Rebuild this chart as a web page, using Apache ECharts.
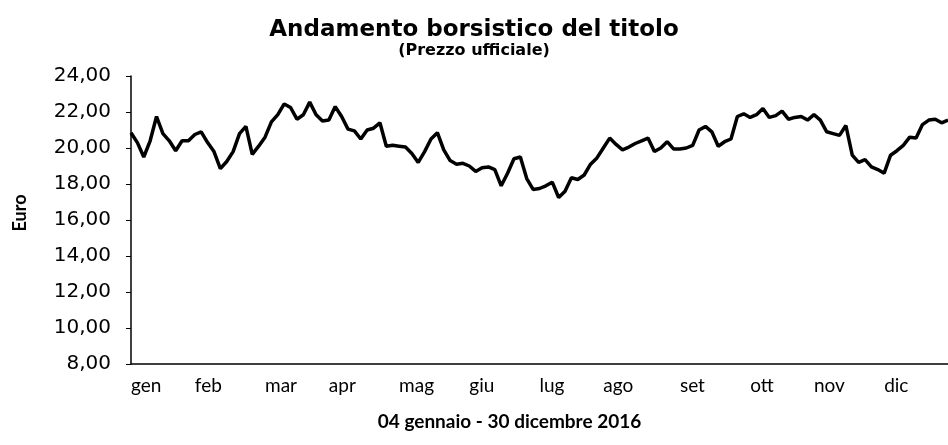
<!DOCTYPE html>
<html>
<head>
<meta charset="utf-8">
<script src="https://cdn.jsdelivr.net/npm/echarts@6/dist/echarts.min.js"></script>
<style>
  html, body { margin: 0; padding: 0; background: #ffffff; }
  #chart { width: 948px; height: 445px; }
</style>
</head>
<body>
<div id="chart"></div>
<script>
// Trading days sampled every second session (dd/mm, 2016)
const dates = [
  '04/01','06/01','08/01','12/01','14/01','18/01','20/01','22/01','26/01','28/01',
  '01/02','03/02','05/02','09/02','11/02','15/02','17/02','19/02','23/02','25/02','29/02',
  '02/03','04/03','08/03','10/03','14/03','16/03','18/03','22/03','24/03','30/03',
  '01/04','05/04','07/04','11/04','13/04','15/04','19/04','21/04','25/04','27/04','29/04',
  '03/05','05/05','09/05','11/05','13/05','17/05','19/05','23/05','25/05','27/05','31/05',
  '02/06','06/06','08/06','10/06','14/06','16/06','20/06','22/06','24/06','28/06','30/06',
  '04/07','06/07','08/07','12/07','14/07','18/07','20/07','22/07','26/07','28/07',
  '01/08','03/08','05/08','09/08','11/08','15/08','17/08','19/08','23/08','25/08','29/08','31/08',
  '02/09','06/09','08/09','12/09','14/09','16/09','20/09','22/09','26/09','28/09','30/09',
  '04/10','06/10','10/10','12/10','14/10','18/10','20/10','24/10','26/10','28/10',
  '01/11','03/11','07/11','09/11','11/11','15/11','17/11','21/11','23/11','25/11','29/11',
  '01/12','05/12','07/12','09/12','13/12','15/12','19/12','21/12','23/12','28/12','30/12'
];

// Official price (Euro)
const prices = [
  20.85, 20.30, 19.50, 20.40, 21.75, 20.80, 20.40, 19.85, 20.40, 20.40,
  20.75, 20.90, 20.30, 19.80, 18.85, 19.25, 19.80, 20.80, 21.20, 19.65, 20.10,
  20.60, 21.45, 21.85, 22.45, 22.25, 21.60, 21.85, 22.55, 21.85, 21.50,
  21.55, 22.30, 21.75, 21.05, 20.95, 20.50, 21.00, 21.10, 21.40, 20.10, 20.15,
  20.10, 20.05, 19.70, 19.20, 19.80, 20.50, 20.85, 19.90, 19.30, 19.10, 19.15,
  19.00, 18.70, 18.90, 18.95, 18.80, 17.90, 18.60, 19.40, 19.50, 18.30, 17.70,
  17.75, 17.90, 18.10, 17.25, 17.60, 18.35, 18.25, 18.50, 19.10, 19.45,
  20.00, 20.55, 20.20, 19.90, 20.05, 20.25, 20.40, 20.55, 19.80, 20.00, 20.35, 19.95,
  19.95, 20.00, 20.15, 21.00, 21.20, 20.90, 20.10, 20.35, 20.50, 21.75, 21.90,
  21.70, 21.85, 22.20, 21.70, 21.80, 22.05, 21.60, 21.70, 21.75, 21.55,
  21.85, 21.55, 20.90, 20.80, 20.70, 21.25, 19.60, 19.20, 19.35, 18.95, 18.80,
  18.60, 19.60, 19.85, 20.15, 20.60, 20.55, 21.30, 21.55, 21.60, 21.40, 21.55
];

// Month names shown on the category axis
const monthLabels = ['gen','feb','mar','apr','mag','giu','lug','ago','set','ott','nov','dic'];

// Value axis range
const yMin = 8;
const yMax = 24;
const yStep = 2;

const monthOf = d => parseInt(d.slice(3, 5), 10) - 1;
const isMonthStart = i => i === 0 || monthOf(dates[i]) !== monthOf(dates[i - 1]);

const chart = echarts.init(document.getElementById('chart'), null, { renderer: 'canvas' });

chart.setOption({
  backgroundColor: '#ffffff',
  animation: false,
  title: {
    text: 'Andamento borsistico del titolo',
    subtext: '(Prezzo ufficiale)',
    left: 'center',
    top: 14,
    padding: [5, 0, 5, 18],
    itemGap: 1,
    textStyle: {
      fontFamily: 'DejaVu Sans',
      fontWeight: 'bold',
      fontSize: 23,
      color: '#000000'
    },
    subtextStyle: {
      fontFamily: 'DejaVu Sans',
      fontWeight: 'bold',
      fontSize: 16,
      color: '#000000'
    }
  },
  grid: {
    left: 131,
    right: 0,
    top: 76,
    bottom: 81,
    outerBoundsMode: 'none'
  },
  xAxis: {
    type: 'category',
    data: dates,
    boundaryGap: false,
    name: '04 gennaio - 30 dicembre 2016',
    nameLocation: 'middle',
    nameGap: 48,
    nameTextStyle: {
      fontFamily: 'Lato',
      fontWeight: 'bold',
      fontSize: 19,
      color: '#000000',
      padding: [0, 60, 0, 0]
    },
    axisLine: { show: true, lineStyle: { color: '#000000', width: 1.5 } },
    axisTick: { show: false },
    splitLine: { show: false },
    axisLabel: {
      interval: (index) => isMonthStart(index),
      formatter: (value) => monthLabels[monthOf(value)],
      align: 'left',
      margin: 12,
      fontFamily: 'Lato',
      fontSize: 19,
      color: '#000000'
    }
  },
  yAxis: {
    type: 'value',
    min: yMin,
    max: yMax,
    interval: yStep,
    name: 'Euro',
    nameLocation: 'middle',
    nameGap: 102,
    nameRotate: 90,
    nameTextStyle: {
      fontFamily: 'Lato',
      fontWeight: 'bold',
      fontSize: 18,
      color: '#000000',
      padding: [0, 0, 0, 14]
    },
    axisLine: { show: true, lineStyle: { color: '#000000', width: 1.5 } },
    axisTick: { show: true, inside: false, length: 5, lineStyle: { color: '#000000', width: 1 } },
    splitLine: { show: false },
    axisLabel: {
      margin: 20,
      fontFamily: 'DejaVu Sans',
      fontSize: 20,
      color: '#000000',
      formatter: (v) => v.toFixed(2).replace('.', ',')
    }
  },
  series: [{
    type: 'line',
    data: prices,
    showSymbol: false,
    smooth: false,
    lineStyle: { color: '#000000', width: 3.5 },
    itemStyle: { color: '#000000' }
  }]
});
</script>
</body>
</html>
